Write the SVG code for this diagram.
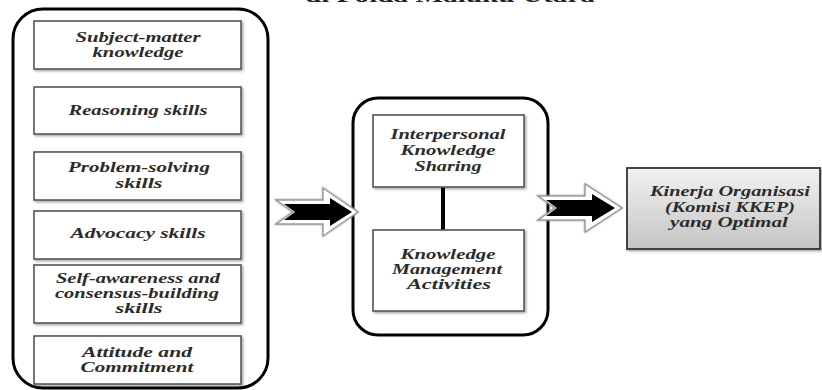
<svg xmlns="http://www.w3.org/2000/svg" width="822" height="390" viewBox="0 0 822 390">
<defs>
<linearGradient id="grey" x1="0" y1="0" x2="0" y2="1">
<stop offset="0" stop-color="#f2f2f2"/>
<stop offset="1" stop-color="#c4c4c4"/>
</linearGradient>
<filter id="sh" x="-10%" y="-10%" width="130%" height="130%">
<feDropShadow dx="1.5" dy="1.5" stdDeviation="1" flood-color="#000" flood-opacity="0.35"/>
</filter>
<filter id="glow" x="-20%" y="-20%" width="140%" height="140%">
<feDropShadow dx="0" dy="0" stdDeviation="1.2" flood-color="#888" flood-opacity="0.8"/>
</filter>
</defs>
<style>
.cont{fill:#fff;stroke:#000;stroke-width:3}
.box{fill:#fff;stroke:#555;stroke-width:1.6}
.t{font-family:"Liberation Serif","DejaVu Serif",serif;font-weight:bold;font-style:italic;font-size:14.5px;fill:#2b2b2b;text-anchor:middle}
.title{font-family:"Liberation Serif","DejaVu Serif",serif;font-weight:bold;font-size:18px;fill:#222;text-anchor:middle}
.aout{fill:#fff;stroke:#9a9a9a;stroke-width:1.4}
.ain{fill:#000}
</style>
<text class="title" x="450" y="1.5" textLength="290" lengthAdjust="spacingAndGlyphs">di Polda Maluku Utara</text>

<g id="left-group">
<rect class="cont" x="13" y="9" width="255" height="379" rx="30" ry="30"/>
</g>
<g id="n1"><rect class="box" x="34" y="21" width="207" height="48" filter="url(#sh)"/>
<text class="t" x="138" y="42" textLength="125" lengthAdjust="spacingAndGlyphs">Subject-matter</text>
<text class="t" x="138" y="57" textLength="91" lengthAdjust="spacingAndGlyphs">knowledge</text></g>
<g id="n2"><rect class="box" x="34" y="87" width="207" height="47" filter="url(#sh)"/>
<text class="t" x="138" y="115" textLength="139" lengthAdjust="spacingAndGlyphs">Reasoning skills</text></g>
<g id="n3"><rect class="box" x="34" y="152" width="207" height="48" filter="url(#sh)"/>
<text class="t" x="139" y="172" textLength="142" lengthAdjust="spacingAndGlyphs">Problem-solving</text>
<text class="t" x="139" y="188" textLength="47" lengthAdjust="spacingAndGlyphs">skills</text></g>
<g id="n4"><rect class="box" x="34" y="211" width="207" height="48" filter="url(#sh)"/>
<text class="t" x="138" y="238" textLength="135" lengthAdjust="spacingAndGlyphs">Advocacy skills</text></g>
<g id="n5"><rect class="box" x="34" y="265" width="207" height="58" filter="url(#sh)"/>
<text class="t" x="138" y="283" textLength="164" lengthAdjust="spacingAndGlyphs">Self-awareness and</text>
<text class="t" x="137" y="298" textLength="164" lengthAdjust="spacingAndGlyphs">consensus-building</text>
<text class="t" x="139" y="313" textLength="47" lengthAdjust="spacingAndGlyphs">skills</text></g>
<g id="n6"><rect class="box" x="34" y="336" width="207" height="48" filter="url(#sh)"/>
<text class="t" x="137" y="357" textLength="110" lengthAdjust="spacingAndGlyphs">Attitude and</text>
<text class="t" x="137" y="372" textLength="113" lengthAdjust="spacingAndGlyphs">Commitment</text></g>

<g id="middle-group">
<rect class="cont" x="353" y="98" width="195" height="237" rx="25" ry="25"/>
</g>
<g id="connectors">
<line x1="443" y1="187" x2="443" y2="230" stroke="#000" stroke-width="4"/>
<g id="arrow1" filter="url(#glow)">
<path class="aout" d="M276,200 L323,200 L323,188 L358,212 L323,236 L323,224 L276,224 L293,212 Z"/>
<path class="ain" d="M284,204 L330,204 L330,198 L352,212 L330,226 L330,220 L284,220 L295,212 Z"/>
</g>
<g id="arrow2" filter="url(#glow)">
<path class="aout" d="M538,196 L585,196 L585,184 L622,208 L585,232 L585,220 L538,220 L555,208 Z"/>
<path class="ain" d="M546,200 L592,200 L592,194 L615,208 L592,222 L592,216 L546,216 L557,208 Z"/>
</g>
</g>
<g id="m1"><rect class="box" x="373" y="115" width="151" height="72" filter="url(#sh)"/>
<text class="t" x="448" y="139" textLength="115" lengthAdjust="spacingAndGlyphs">Interpersonal</text>
<text class="t" x="448" y="155" textLength="95" lengthAdjust="spacingAndGlyphs">Knowledge</text>
<text class="t" x="448" y="171" textLength="67" lengthAdjust="spacingAndGlyphs">Sharing</text></g>
<g id="m2"><rect class="box" x="373" y="230" width="151" height="81" filter="url(#sh)"/>
<text class="t" x="448" y="259" textLength="95" lengthAdjust="spacingAndGlyphs">Knowledge</text>
<text class="t" x="447" y="274" textLength="110" lengthAdjust="spacingAndGlyphs">Management</text>
<text class="t" x="449" y="289" textLength="84" lengthAdjust="spacingAndGlyphs">Activities</text></g>

<g id="r1"><rect x="627" y="168" width="193" height="81" fill="url(#grey)" stroke="#333" stroke-width="1.8" filter="url(#sh)"/>
<text class="t" x="730" y="196" textLength="160" lengthAdjust="spacingAndGlyphs">Kinerja Organisasi</text>
<text class="t" x="730" y="212" textLength="130" lengthAdjust="spacingAndGlyphs">(Komisi KKEP)</text>
<text class="t" x="729" y="227" textLength="118" lengthAdjust="spacingAndGlyphs">yang Optimal</text></g>
</svg>
